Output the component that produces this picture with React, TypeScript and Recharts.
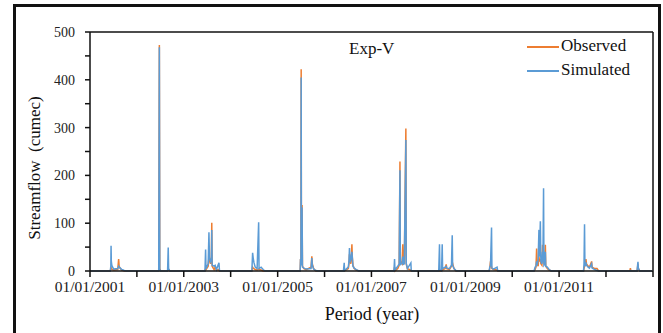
import { LineChart, Line, XAxis, YAxis, ReferenceLine } from 'recharts'

// daily streamflow (cumec): only the flow events, baseline is zero between them
const dates = [
  '2001-01-01',
  '2001-06-08', '2001-06-12', '2001-06-14', '2001-06-16', '2001-06-20', '2001-06-26', '2001-07-05',
  '2001-08-05', '2001-08-12', '2001-08-16', '2001-08-25', '2001-09-05', '2001-09-25', '2001-10-10',
  '2002-06-20', '2002-06-25', '2002-06-28', '2002-07-05', '2002-08-28', '2002-09-02', '2002-09-05', '2002-09-15',
  '2003-06-15', '2003-06-20', '2003-06-23', '2003-07-10', '2003-07-16', '2003-07-20', '2003-07-28',
  '2003-08-04', '2003-08-07', '2003-08-10', '2003-08-25', '2003-09-02', '2003-09-12', '2003-10-02',
  '2003-10-06', '2003-10-20',
  '2004-06-14', '2004-06-20', '2004-06-24', '2004-06-30', '2004-07-10', '2004-07-25', '2004-08-06',
  '2004-08-09', '2004-08-25', '2004-09-10', '2004-09-25',
  '2005-06-25', '2005-06-28', '2005-07-01', '2005-07-03', '2005-07-05', '2005-07-08', '2005-07-10',
  '2005-07-13', '2005-07-25', '2005-08-10', '2005-09-18', '2005-09-24', '2005-09-28', '2005-10-08',
  '2005-10-25', '2005-11-10',
  '2006-05-28', '2006-06-03', '2006-06-06', '2006-07-05', '2006-07-10', '2006-07-14', '2006-07-18',
  '2006-07-25', '2006-08-02', '2006-08-05', '2006-08-10', '2006-08-20', '2006-09-05', '2006-09-25',
  '2007-06-25', '2007-06-30', '2007-07-03', '2007-07-25', '2007-08-05', '2007-08-11', '2007-08-14',
  '2007-08-20', '2007-08-28', '2007-09-02', '2007-09-06', '2007-09-14', '2007-09-26', '2007-09-29',
  '2007-10-08', '2007-11-04', '2007-11-07', '2007-11-15',
  '2008-06-08', '2008-06-14', '2008-06-17', '2008-06-30', '2008-07-05', '2008-07-08', '2008-07-28',
  '2008-08-05', '2008-08-10', '2008-08-30', '2008-09-15', '2008-09-21', '2008-09-24', '2008-10-05',
  '2008-10-20', '2008-11-01',
  '2009-07-05', '2009-07-10', '2009-07-16', '2009-07-24', '2009-07-27', '2009-08-08', '2009-09-05',
  '2009-09-10', '2009-09-25',
  '2010-06-20', '2010-06-28', '2010-07-05', '2010-07-10', '2010-07-14', '2010-07-22', '2010-07-28',
  '2010-08-01', '2010-08-08', '2010-08-12', '2010-08-20', '2010-08-25', '2010-08-28', '2010-09-02',
  '2010-09-05', '2010-09-10', '2010-09-16', '2010-09-19', '2010-10-01', '2010-10-15', '2010-11-01',
  '2011-07-10', '2011-07-14', '2011-07-18', '2011-07-21', '2011-07-29', '2011-08-02', '2011-08-15',
  '2011-08-25', '2011-09-11', '2011-09-15', '2011-10-05', '2011-10-23', '2011-11-05',
  '2012-07-05', '2012-07-09', '2012-07-13', '2012-08-30', '2012-09-03', '2012-09-06', '2012-09-09',
  '2012-09-20',
  '2012-12-31',
]

const observed = [
  0,
  0, 5, 8, 5, 4, 3, 2,
  3, 25, 10, 5, 2, 0, 0,
  0, 473, 5, 0, 0, 5, 3, 0,
  0, 5, 3, 10, 30, 25, 15,
  30, 101, 10, 3, 8, 2, 3,
  0, 0,
  0, 8, 6, 5, 3, 2, 4,
  3, 2, 0, 0,
  0, 25, 20, 422, 15, 20, 138,
  10, 5, 3, 8, 31, 15, 5,
  0, 0,
  0, 2, 0, 5, 15, 35, 20,
  15, 56, 30, 12, 5, 2, 0,
  0, 8, 0, 5, 12, 229, 15,
  18, 15, 56, 15, 16, 298, 15,
  5, 2, 0, 0,
  0, 3, 0, 0, 4, 2, 5,
  14, 5, 3, 10, 20, 15, 5,
  0, 0,
  0, 5, 20, 8, 5, 3, 2,
  0, 0,
  0, 3, 8, 47, 15, 10, 30,
  20, 25, 15, 12, 55, 20, 30,
  15, 15, 55, 10, 5, 2, 0,
  0, 5, 10, 12, 25, 15, 10,
  8, 20, 8, 5, 5, 0,
  0, 6, 0, 0, 8, 15, 5,
  0,
  0,
]

const simulated = [
  0,
  0, 10, 53, 20, 12, 8, 4,
  5, 10, 8, 6, 3, 1, 0,
  0, 468, 3, 0, 0, 49, 5, 0,
  0, 45, 5, 15, 81, 28, 20,
  25, 86, 12, 10, 12, 3, 17,
  1, 0,
  0, 38, 28, 18, 8, 5, 102,
  5, 8, 3, 0,
  0, 25, 18, 405, 12, 15, 133,
  8, 6, 4, 5, 27, 12, 4,
  1, 0,
  0, 17, 1, 8, 20, 48, 18,
  25, 40, 28, 10, 6, 3, 0,
  0, 25, 2, 10, 15, 211, 12,
  15, 17, 30, 14, 15, 274, 16,
  5, 17, 1, 0,
  0, 56, 2, 0, 56, 5, 8,
  10, 6, 5, 12, 75, 12, 5,
  1, 0,
  0, 8, 12, 91, 6, 4, 8,
  1, 0,
  0, 8, 10, 20, 12, 25, 86,
  30, 104, 20, 15, 40, 18, 173,
  12, 14, 40, 10, 8, 3, 0,
  0, 15, 98, 10, 18, 12, 8,
  6, 15, 6, 3, 1, 0,
  0, 1, 0, 0, 12, 19, 6,
  0,
  0,
]

const labelYears = [2001, 2003, 2005, 2007, 2009, 2011]
const tickYears = [2001, 2002, 2003, 2004, 2005, 2006, 2007, 2008, 2009, 2010, 2011, 2012, 2013]
const yTicks = [0, 50, 100, 150, 200, 250, 300, 350, 400, 450, 500]

const DAY = 86400000
const origin = Date.UTC(2001, 0, 1)
const toDay = (s: string) => {
  const [y, m, d] = s.split('-').map(Number)
  return Math.round((Date.UTC(y, m - 1, d) - origin) / DAY)
}

const data = dates.map((d, i) => ({ t: toDay(d), observed: observed[i], simulated: simulated[i] }))
const xTicks = tickYears.map((y) => toDay(`${y}-01-01`))
const xEnd = toDay('2013-01-01')

const serif = '"Liberation Serif", "Times New Roman", serif'

const fmtX = (v: number) => {
  const y = new Date(origin + v * DAY).getUTCFullYear()
  return labelYears.includes(y) ? `01/01/${y}` : ''
}

export default function App() {
  return (
    <div
      style={{
        position: 'absolute',
        left: 0,
        top: 0,
        width: 663,
        height: 333,
        overflow: 'hidden',
        background: '#fff',
        fontFamily: serif,
      }}
    >
      <div
        style={{
          position: 'absolute',
          left: 13,
          top: 4,
          width: 642,
          height: 340,
          border: '3px solid #111',
        }}
      />
      <LineChart
        width={663}
        height={333}
        data={data}
        margin={{ top: 32, right: 10, bottom: 0, left: 0 }}
        style={{ position: 'absolute', left: 0, top: 0 }}
      >
        <XAxis
          dataKey="t"
          type="number"
          domain={[0, xEnd]}
          ticks={xTicks}
          tickFormatter={fmtX}
          interval={0}
          height={62}
          stroke="#111"
          strokeWidth={1.5}
          tickSize={6}
          tickMargin={4}
          tick={{ fontSize: 15.5, fill: '#222', fontFamily: serif }}
        />
        <YAxis
          type="number"
          domain={[0, 500]}
          ticks={yTicks}
          tickFormatter={(v: number) => (v % 100 === 0 ? String(v) : '')}
          interval={0}
          width={90}
          stroke="#111"
          strokeWidth={1.5}
          tickSize={5}
          tickMargin={10}
          tick={{ fontSize: 14, fill: '#222', fontFamily: serif }}
        />
        <ReferenceLine y={500} stroke="#111" strokeWidth={1.5} />
        <ReferenceLine x={xEnd} stroke="#111" strokeWidth={1.5} />
        <Line
          type="linear"
          dataKey="observed"
          stroke="#ED7D31"
          strokeWidth={1.5}
          dot={false}
          isAnimationActive={false}
        />
        <Line
          type="linear"
          dataKey="simulated"
          stroke="#5B9BD5"
          strokeWidth={1.5}
          dot={false}
          isAnimationActive={false}
        />
      </LineChart>

      <div style={{ position: 'absolute', left: 349, top: 39, fontSize: 17, color: '#111' }}>Exp-V</div>

      <div style={{ position: 'absolute', left: 527, top: 46, width: 32, height: 2, background: '#ED7D31' }} />
      <div style={{ position: 'absolute', left: 561, top: 36, fontSize: 17, color: '#111' }}>Observed</div>
      <div style={{ position: 'absolute', left: 527, top: 70, width: 32, height: 2, background: '#5B9BD5' }} />
      <div style={{ position: 'absolute', left: 561, top: 60, fontSize: 17, color: '#111' }}>Simulated</div>

      <div
        style={{
          position: 'absolute',
          left: 35,
          top: 168,
          fontSize: 17,
          color: '#111',
          whiteSpace: 'pre',
          transform: 'translate(-50%, -50%) rotate(-90deg)',
        }}
      >
        Streamflow  (cumec)
      </div>
      <div
        style={{
          position: 'absolute',
          left: 372,
          top: 304,
          fontSize: 18,
          color: '#111',
          whiteSpace: 'pre',
          transform: 'translateX(-50%)',
        }}
      >
        Period (year)
      </div>
    </div>
  )
}
